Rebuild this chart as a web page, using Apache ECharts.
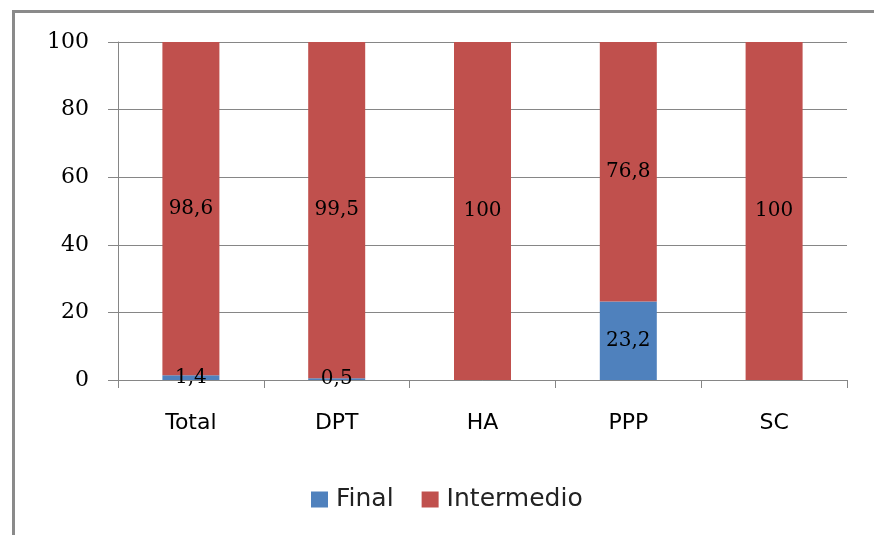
<!DOCTYPE html>
<html>
<head>
<meta charset="utf-8">
<script src="https://cdn.jsdelivr.net/npm/echarts@6/dist/echarts.min.js"></script>
<style>
html,body{margin:0;padding:0;background:#fff;}
#chart{width:874px;height:535px;}
</style>
</head>
<body>
<div id="chart"></div>
<script>
const categories = ['Total', 'DPT', 'HA', 'PPP', 'SC'];
const finalValues = [1.4, 0.5, null, 23.2, null];
const intermedioValues = [98.6, 99.5, 100, 76.8, 100];
const seriesNames = ['Final', 'Intermedio'];

const fmt = p => (p.value === null || p.value === undefined) ? '' : String(p.value).replace('.', ',');
const labelStyle = {
  show: true, position: 'inside', color: '#000',
  fontFamily: 'DejaVu Serif', fontSize: 20, formatter: fmt
};

const chart = echarts.init(document.getElementById('chart'), null, {renderer: 'canvas'});
chart.setOption({
  animation: false,
  backgroundColor: '#fff',
  graphic: [{
    type: 'rect', left: 11, top: 9, z: 100,
    shape: {x: 0, y: 0, width: 950, height: 600},
    style: {fill: 'none', stroke: '#8a8a8a', lineWidth: 3}
  }],
  grid: {left: 118, right: 27, top: 42, bottom: 155},
  legend: {
    left: 306, top: 482,
    itemWidth: 17, itemHeight: 16, itemGap: 28,
    icon: 'rect',
    textStyle: {fontFamily: 'DejaVu Sans', fontSize: 25, color: '#222', padding: [0, 0, 0, 3]},
    data: seriesNames
  },
  xAxis: {
    type: 'category', data: categories,
    axisLine: {lineStyle: {color: '#868686', width: 1}},
    axisTick: {show: true, length: 8, lineStyle: {color: '#868686'}},
    axisLabel: {margin: 32, fontFamily: 'DejaVu Sans', fontSize: 22, color: '#000'}
  },
  yAxis: {
    type: 'value', min: 0, max: 100, interval: 20,
    axisLine: {show: true, lineStyle: {color: '#868686', width: 1}},
    axisTick: {show: true, length: 10, lineStyle: {color: '#868686'}},
    splitLine: {lineStyle: {color: '#868686', width: 1}},
    axisLabel: {margin: 29, fontFamily: 'DejaVu Serif', fontSize: 22, color: '#000'}
  },
  series: [
    {name: seriesNames[0], type: 'bar', stack: 's', data: finalValues, barWidth: 57,
     itemStyle: {color: '#4F81BD'}, label: labelStyle},
    {name: seriesNames[1], type: 'bar', stack: 's', data: intermedioValues, barWidth: 57,
     itemStyle: {color: '#C0504D'}, label: labelStyle}
  ]
});
</script>
</body>
</html>
